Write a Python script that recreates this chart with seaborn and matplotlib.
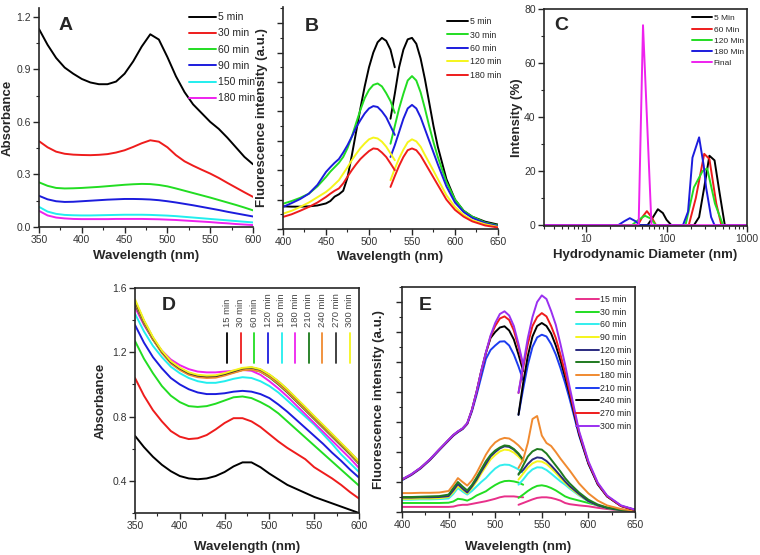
import numpy as np
import pandas as pd
import seaborn as sns
import matplotlib
matplotlib.use('Agg')
import matplotlib.pyplot as plt
from matplotlib.ticker import MultipleLocator, NullFormatter

# ---------------- Panel A: absorbance vs time ----------------
wl_a = [350, 360, 370, 380, 390, 400, 410, 420, 430, 440, 450, 460, 470,
        480, 490, 500, 510, 520, 530, 540, 550, 560, 570, 580, 590, 600]
a_labels = ['5 min', '30 min', '60 min', '90 min', '150 min', '180 min']
a_colors = ['black', '#ee1c1c', '#22dd22', '#1c1cdd', '#22eeee', '#ee22ee']
a_5 = [1.13, 1.04, 0.965, 0.91, 0.875, 0.845, 0.825, 0.815, 0.815, 0.83, 0.875, 0.945, 1.03,
       1.10, 1.07, 0.97, 0.86, 0.77, 0.70, 0.65, 0.60, 0.56, 0.51, 0.455, 0.40, 0.358]
a_30 = [0.49, 0.455, 0.43, 0.418, 0.413, 0.411, 0.41, 0.412, 0.416, 0.425, 0.438, 0.457, 0.478,
        0.495, 0.487, 0.455, 0.41, 0.375, 0.35, 0.327, 0.305, 0.28, 0.252, 0.225, 0.198, 0.172]
a_60 = [0.255, 0.235, 0.223, 0.22, 0.221, 0.223, 0.226, 0.229, 0.233, 0.237, 0.241, 0.244, 0.246,
        0.245, 0.24, 0.232, 0.22, 0.207, 0.194, 0.181, 0.168, 0.154, 0.14, 0.126, 0.111, 0.095]
a_90 = [0.178, 0.158, 0.147, 0.143, 0.144, 0.147, 0.15, 0.153, 0.156, 0.158, 0.16, 0.16, 0.159,
        0.157, 0.153, 0.147, 0.14, 0.132, 0.124, 0.115, 0.106, 0.097, 0.087, 0.078, 0.069, 0.06]
a_150 = [0.115, 0.088, 0.075, 0.069, 0.067, 0.066, 0.066, 0.067, 0.068, 0.069, 0.07, 0.07, 0.07,
         0.069, 0.067, 0.065, 0.062, 0.058, 0.054, 0.05, 0.046, 0.042, 0.038, 0.034, 0.03, 0.026]
a_180 = [0.092, 0.066, 0.054, 0.049, 0.046, 0.045, 0.045, 0.045, 0.045, 0.046, 0.046, 0.046, 0.046,
         0.045, 0.044, 0.042, 0.04, 0.037, 0.034, 0.031, 0.028, 0.024, 0.021, 0.017, 0.014, 0.011]

# ---------------- Panel B: fluorescence (two segments) ----------------
wl_b1 = [400, 410, 420, 430, 440, 450, 455, 460, 465, 470, 475, 480, 485, 490,
         495, 500, 505, 510, 515, 520, 525, 530]
wl_b2 = [525, 530, 535, 540, 545, 550, 555, 560, 565, 570, 575, 580, 590, 600,
         610, 620, 635, 650]
b_labels = ['5 min', '30 min', '60 min', '120 min', '180 min']
b_colors = ['black', '#22dd22', '#1c1cdd', '#f5f51c', '#ee1c1c']
b_left = [
    [0.77, 0.76, 0.76, 0.77, 0.80, 0.87, 0.95, 1.10, 1.18, 1.30, 1.75, 2.50, 3.30, 4.10,
     4.85, 5.50, 6.00, 6.35, 6.50, 6.40, 6.10, 5.50],
    [0.86, 0.95, 1.06, 1.20, 1.45, 1.77, 1.95, 2.10, 2.25, 2.45, 2.75, 3.14, 3.60, 4.05,
     4.45, 4.73, 4.90, 4.95, 4.85, 4.62, 4.35, 3.95],
    [0.75, 0.88, 1.02, 1.20, 1.50, 1.94, 2.10, 2.25, 2.38, 2.60, 2.85, 3.14, 3.45, 3.70,
     3.93, 4.10, 4.18, 4.15, 4.00, 3.80, 3.50, 3.20],
    [0.52, 0.62, 0.75, 0.90, 1.08, 1.26, 1.38, 1.52, 1.66, 1.88, 2.10, 2.34, 2.55, 2.75,
     2.91, 3.05, 3.11, 3.08, 2.97, 2.80, 2.57, 2.34],
    [0.41, 0.50, 0.62, 0.75, 0.90, 1.09, 1.20, 1.30, 1.38, 1.55, 1.78, 2.00, 2.20, 2.38,
     2.52, 2.65, 2.74, 2.72, 2.60, 2.45, 2.23, 2.00],
]
b_right = [
    [3.75, 4.60, 5.50, 6.10, 6.45, 6.50, 6.30, 5.80, 5.10, 4.30, 3.50, 2.80, 1.70, 1.00,
     0.62, 0.42, 0.25, 0.15],
    [2.90, 3.50, 4.10, 4.60, 5.05, 5.20, 5.05, 4.65, 4.10, 3.50, 2.95, 2.45, 1.60, 1.00,
     0.62, 0.42, 0.22, 0.12],
    [2.45, 2.85, 3.30, 3.75, 4.10, 4.22, 4.10, 3.80, 3.40, 3.00, 2.60, 2.20, 1.45, 0.90,
     0.58, 0.38, 0.20, 0.10],
    [1.66, 2.05, 2.40, 2.70, 2.95, 3.05, 2.98, 2.80, 2.52, 2.25, 1.98, 1.70, 1.15, 0.75,
     0.48, 0.30, 0.16, 0.07],
    [1.43, 1.80, 2.15, 2.45, 2.68, 2.74, 2.68, 2.50, 2.25, 2.00, 1.75, 1.50, 1.00, 0.65,
     0.42, 0.26, 0.12, 0.05],
]

# ---------------- Panel C: DLS size distribution ----------------
c_labels = ['5 Min', '60 Min', '120 Min', '180 Min', 'Final']
c_colors = ['black', '#ee1c1c', '#22dd22', '#1c1cdd', '#ee22ee']
c_x = [
    [3, 58, 68, 78, 90, 100, 115, 219, 254, 294, 341, 395, 456, 530, 1000],
    [3, 44, 50, 57, 65, 74, 189, 231, 294, 341, 415, 481, 1000],
    [3, 37, 45, 54, 63, 74, 172, 219, 280, 320, 400, 504, 1000],
    [3, 25, 30, 35, 41, 47, 160, 185, 210, 254, 290, 310, 358, 395, 1000],
    [3, 45, 51, 65, 1000],
]
c_y = [
    [0, 0, 3, 5.9, 4.5, 2, 0, 0, 3, 14, 25.7, 24, 12, 0, 0],
    [0, 0, 3, 5.2, 3, 0, 0, 10, 26.4, 24.5, 8, 0, 0],
    [0, 0, 2, 3.5, 2.5, 0, 0, 14, 20, 21, 8, 0, 0],
    [0, 0, 1.5, 2.6, 1.5, 0, 0, 5, 25, 32.5, 22, 14, 3, 0, 0],
    [0, 0, 74, 0, 0],
]

# ---------------- Panel D: absorbance, longer times ----------------
wl_d = wl_a
d_labels = ['15 min', '30 min', '60 min', '120 min', '150 min', '180 min',
            '210 min', '240 min', '270 min', '300 min']
d_colors = ['black', '#ee1c1c', '#22dd22', '#1c1cdd', '#22eeee', '#ee22ee',
            '#1a7a1a', '#f08a30', '#333333', '#f5f51c']
d_vals = [
    [0.68, 0.61, 0.55, 0.50, 0.46, 0.43, 0.415, 0.41, 0.415, 0.43, 0.455, 0.49, 0.515,
     0.515, 0.485, 0.445, 0.41, 0.375, 0.35, 0.325, 0.30, 0.28, 0.26, 0.24, 0.22, 0.20],
    [1.04, 0.93, 0.84, 0.77, 0.71, 0.675, 0.66, 0.665, 0.685, 0.72, 0.76, 0.79, 0.79,
     0.77, 0.735, 0.69, 0.645, 0.605, 0.57, 0.535, 0.485, 0.45, 0.415, 0.375, 0.33, 0.29],
    [1.27, 1.16, 1.07, 0.99, 0.93, 0.89, 0.865, 0.86, 0.865, 0.88, 0.90, 0.92, 0.925,
     0.915, 0.89, 0.86, 0.82, 0.77, 0.72, 0.67, 0.62, 0.57, 0.52, 0.47, 0.42, 0.37],
    [1.37, 1.26, 1.17, 1.10, 1.04, 1.00, 0.97, 0.95, 0.94, 0.94, 0.945, 0.955, 0.96,
     0.955, 0.94, 0.915, 0.875, 0.83, 0.78, 0.73, 0.68, 0.63, 0.575, 0.525, 0.47, 0.42],
    [1.44, 1.33, 1.24, 1.17, 1.11, 1.07, 1.04, 1.02, 1.01, 1.01, 1.02, 1.035, 1.045,
     1.04, 1.02, 0.99, 0.95, 0.90, 0.85, 0.80, 0.75, 0.69, 0.63, 0.565, 0.51, 0.455],
    [1.48, 1.37, 1.28, 1.21, 1.155, 1.12, 1.095, 1.08, 1.075, 1.075, 1.08, 1.085, 1.09,
     1.085, 1.06, 1.02, 0.975, 0.925, 0.87, 0.815, 0.76, 0.705, 0.65, 0.595, 0.54, 0.48],
    [1.50, 1.38, 1.28, 1.20, 1.14, 1.10, 1.07, 1.055, 1.05, 1.05, 1.06, 1.075, 1.09,
     1.095, 1.08, 1.045, 1.00, 0.95, 0.895, 0.84, 0.785, 0.73, 0.675, 0.62, 0.565, 0.505],
    [1.51, 1.385, 1.28, 1.195, 1.13, 1.09, 1.06, 1.045, 1.04, 1.042, 1.055, 1.072, 1.088,
     1.093, 1.08, 1.048, 1.005, 0.955, 0.90, 0.845, 0.79, 0.735, 0.68, 0.625, 0.57, 0.51],
    [1.52, 1.395, 1.29, 1.205, 1.14, 1.10, 1.07, 1.055, 1.05, 1.052, 1.065, 1.082, 1.10,
     1.105, 1.092, 1.06, 1.018, 0.968, 0.912, 0.857, 0.80, 0.745, 0.69, 0.633, 0.578, 0.518],
    [1.53, 1.40, 1.295, 1.21, 1.145, 1.105, 1.075, 1.06, 1.055, 1.057, 1.07, 1.087, 1.103,
     1.108, 1.095, 1.062, 1.02, 0.97, 0.915, 0.86, 0.803, 0.748, 0.692, 0.636, 0.58, 0.52],
]

# ---------------- Panel E: fluorescence, longer times (two segments) ----------------
wl_e1 = wl_b1
wl_e2 = wl_b2
e_labels = ['15 min', '30 min', '60 min', '90 min', '120 min', '150 min', '180 min',
            '210 min', '240 min', '270 min', '300 min']
e_colors = ['#e8308a', '#22dd22', '#33eeee', '#f5f51c', '#2a2a80', '#1f7a1f', '#f08a30',
            '#1c3cf0', 'black', '#ee1c1c', '#9a30f0']
e_left = [
    [0.17, 0.17, 0.17, 0.17, 0.17, 0.17, 0.18, 0.22, 0.24, 0.24, 0.27, 0.30, 0.33, 0.36,
     0.40, 0.44, 0.49, 0.52, 0.52, 0.52, 0.50, 0.49],
    [0.30, 0.30, 0.30, 0.30, 0.30, 0.31, 0.35, 0.44, 0.42, 0.38, 0.45, 0.55, 0.62, 0.69,
     0.80, 0.90, 0.98, 1.03, 1.04, 1.02, 0.98, 0.91],
    [0.41, 0.41, 0.42, 0.42, 0.43, 0.45, 0.60, 0.80, 0.68, 0.58, 0.70, 0.85, 1.00, 1.13,
     1.30, 1.45, 1.55, 1.58, 1.57, 1.50, 1.42, 1.30],
    [0.44, 0.44, 0.45, 0.45, 0.46, 0.50, 0.66, 0.86, 0.74, 0.62, 0.80, 1.02, 1.28, 1.52,
     1.75, 1.90, 2.02, 2.08, 2.06, 1.98, 1.85, 1.68],
    [0.48, 0.48, 0.49, 0.49, 0.50, 0.53, 0.72, 0.93, 0.78, 0.65, 0.85, 1.08, 1.35, 1.60,
     1.85, 2.00, 2.12, 2.19, 2.17, 2.08, 1.93, 1.74],
    [0.50, 0.50, 0.51, 0.52, 0.53, 0.58, 0.80, 1.00, 0.85, 0.72, 0.90, 1.15, 1.42, 1.69,
     1.90, 2.05, 2.15, 2.22, 2.20, 2.10, 1.95, 1.74],
    [0.63, 0.63, 0.64, 0.64, 0.65, 0.70, 0.90, 1.13, 1.00, 0.88, 1.05, 1.30, 1.60, 1.91,
     2.15, 2.32, 2.42, 2.47, 2.45, 2.35, 2.22, 2.05],
    [1.06, 1.23, 1.45, 1.73, 2.06, 2.38, 2.54, 2.66, 2.76, 2.93, 3.35, 3.90, 4.50, 5.10,
     5.40, 5.55, 5.68, 5.69, 5.55, 5.25, 4.85, 4.40],
    [1.08, 1.25, 1.47, 1.75, 2.08, 2.40, 2.56, 2.68, 2.78, 2.95, 3.40, 4.00, 4.69, 5.30,
     5.80, 6.00, 6.15, 6.19, 6.05, 5.75, 5.25, 4.70],
    [1.08, 1.25, 1.47, 1.75, 2.08, 2.40, 2.56, 2.68, 2.78, 2.95, 3.40, 4.00, 4.69, 5.30,
     5.85, 6.20, 6.45, 6.52, 6.40, 6.05, 5.50, 4.85],
    [1.09, 1.26, 1.48, 1.76, 2.09, 2.41, 2.57, 2.69, 2.79, 2.96, 3.41, 4.01, 4.70, 5.32,
     5.88, 6.30, 6.60, 6.69, 6.55, 6.20, 5.60, 4.90],
]
e_right = [
    [0.24, 0.30, 0.36, 0.42, 0.47, 0.49, 0.49, 0.47, 0.43, 0.38, 0.30, 0.26, 0.22, 0.19,
     0.14, 0.10, 0.05, 0.02],
    [0.47, 0.58, 0.70, 0.80, 0.87, 0.89, 0.86, 0.80, 0.72, 0.62, 0.52, 0.46, 0.38, 0.30,
     0.22, 0.15, 0.07, 0.03],
    [0.91, 1.08, 1.28, 1.42, 1.49, 1.48, 1.40, 1.28, 1.15, 1.02, 0.91, 0.78, 0.55, 0.35,
     0.22, 0.13, 0.06, 0.03],
    [1.08, 1.28, 1.48, 1.62, 1.69, 1.68, 1.60, 1.46, 1.30, 1.13, 0.97, 0.82, 0.57, 0.36,
     0.22, 0.13, 0.06, 0.03],
    [1.27, 1.40, 1.60, 1.75, 1.82, 1.80, 1.70, 1.55, 1.38, 1.20, 1.02, 0.86, 0.60, 0.36,
     0.22, 0.13, 0.06, 0.03],
    [1.24, 1.55, 1.85, 2.02, 2.10, 2.08, 1.95, 1.75, 1.55, 1.35, 1.13, 0.95, 0.65, 0.41,
     0.25, 0.15, 0.07, 0.03],
    [1.47, 1.75, 2.30, 3.10, 3.20, 2.55, 2.30, 2.20, 2.00, 1.78, 1.58, 1.38, 0.95, 0.62,
     0.38, 0.22, 0.10, 0.04],
    [3.24, 4.10, 4.90, 5.50, 5.82, 5.91, 5.85, 5.60, 5.25, 4.80, 4.30, 3.75, 2.55, 1.60,
     0.92, 0.52, 0.20, 0.07],
    [3.24, 4.30, 5.20, 5.85, 6.20, 6.30, 6.20, 5.95, 5.55, 5.05, 4.50, 3.90, 2.60, 1.62,
     0.93, 0.52, 0.20, 0.07],
    [3.97, 4.80, 5.60, 6.20, 6.50, 6.63, 6.52, 6.20, 5.80, 5.25, 4.65, 4.00, 2.65, 1.65,
     0.95, 0.53, 0.20, 0.07],
    [3.97, 4.90, 5.80, 6.50, 7.00, 7.22, 7.10, 6.70, 6.24, 5.60, 4.91, 4.15, 2.70, 1.69,
     0.98, 0.55, 0.22, 0.08],
]

# ---------------- style ----------------
sns.set_style('ticks')
plt.rcParams['font.family'] = ['Liberation Sans', 'DejaVu Sans']
LW = 1.4
TICKC = '#333333'


def style_axes(ax, full_frame=True):
    for s in ax.spines.values():
        s.set_linewidth(1.2)
    if not full_frame:
        ax.spines['top'].set_visible(False)
        ax.spines['right'].set_visible(False)
    ax.tick_params(which='major', direction='out', length=4, width=1, pad=2,
                   labelsize=7.5, labelcolor=TICKC)
    ax.tick_params(which='minor', direction='out', length=2.2, width=0.8)


def label_axes(ax, xl, yl, xpos, ypos, letter, lx, ly):
    ax.set_xlabel(xl, fontsize=9.5, fontweight='bold')
    ax.set_ylabel(yl, fontsize=9.5, fontweight='bold')
    ax.xaxis.set_label_coords(0.5, xpos)
    ax.yaxis.set_label_coords(ypos, 0.5)
    ax.text(lx, ly, letter, transform=ax.transAxes, fontsize=14, fontweight='bold',
            ha='center', va='center')


fig = plt.figure(figsize=(7.6, 5.55), dpi=100)
W, H = 760, 555


def axes_px(l, t, r, b):
    return fig.add_axes([l / W, (H - b) / H, (r - l) / W, (b - t) / H])


# ---- A ----
axA = axes_px(39, 8, 253, 227)
for vals, lab, col in zip([a_5, a_30, a_60, a_90, a_150, a_180], a_labels, a_colors):
    sns.lineplot(x=wl_a, y=vals, color=col, lw=LW, label=lab, ax=axA,
                 estimator=None, sort=False)
axA.set_xlim(350, 600)
axA.set_ylim(0, 1.25)
axA.xaxis.set_major_locator(MultipleLocator(50))
axA.xaxis.set_minor_locator(MultipleLocator(25))
axA.yaxis.set_minor_locator(MultipleLocator(0.15))
axA.set_yticks([0, 0.3, 0.6, 0.9, 1.2])
axA.set_yticklabels(['0.0', '0.3', '0.6', '0.9', '1.2'])
style_axes(axA, full_frame=False)
label_axes(axA, 'Wavelength (nm)', 'Absorbance', -0.105, -0.118, 'A', 0.126, 0.92)
axA.legend(loc='upper right', bbox_to_anchor=(1.03, 1.0), frameon=False, fontsize=7.5,
           handlelength=2.6, labelspacing=0.6, handletextpad=0.2, borderaxespad=0)

# ---- B ----
axB = axes_px(283, 7, 498, 229)
for i in range(len(b_labels)):
    sns.lineplot(x=wl_b1, y=b_left[i], color=b_colors[i], lw=LW, label=b_labels[i],
                 ax=axB, estimator=None, sort=False)
    sns.lineplot(x=wl_b2, y=b_right[i], color=b_colors[i], lw=LW, ax=axB,
                 estimator=None, sort=False)
axB.set_xlim(400, 650)
axB.set_ylim(0, 7.55)
axB.xaxis.set_major_locator(MultipleLocator(50))
axB.xaxis.set_minor_locator(MultipleLocator(25))
axB.yaxis.set_major_locator(MultipleLocator(1))
axB.yaxis.set_minor_locator(MultipleLocator(0.5))
axB.yaxis.set_major_formatter(NullFormatter())
style_axes(axB, full_frame=False)
label_axes(axB, 'Wavelength (nm)', 'Fluorescence intensity (a.u.)', -0.1, -0.07,
           'B', 0.135, 0.91)
axB.legend(loc='upper right', bbox_to_anchor=(1.03, 0.97), frameon=False, fontsize=6.3,
           handlelength=2.4, labelspacing=0.5, handletextpad=0.2, borderaxespad=0)

# ---- C ----
axC = axes_px(544, 9, 747, 226)
for xs, ys, lab, col in zip(c_x, c_y, c_labels, c_colors):
    sns.lineplot(x=xs, y=ys, color=col, lw=LW, label=lab, ax=axC,
                 estimator=None, sort=False)
axC.set_xscale('log')
axC.set_xlim(3, 1000)
axC.set_ylim(-0.3, 80)
axC.set_xticks([10, 100, 1000])
axC.set_xticklabels(['10', '100', '1000'])
axC.set_yticks([0, 20, 40, 60, 80])
axC.yaxis.set_minor_locator(MultipleLocator(10))
style_axes(axC)
label_axes(axC, 'Hydrodynamic Diameter (nm)', 'Intensity (%)', -0.105, -0.105,
           'C', 0.084, 0.926)
axC.legend(loc='upper right', bbox_to_anchor=(1.0, 0.99), frameon=False, fontsize=6,
           handlelength=2.4, labelspacing=0.4, handletextpad=0.2, borderaxespad=0)

# ---- D ----
axD = axes_px(135, 288, 359, 513)
for vals, col in zip(d_vals, d_colors):
    sns.lineplot(x=wl_d, y=vals, color=col, lw=LW, ax=axD, estimator=None, sort=False)
axD.set_xlim(350, 600)
axD.set_ylim(0.2, 1.6)
axD.xaxis.set_major_locator(MultipleLocator(50))
axD.xaxis.set_minor_locator(MultipleLocator(25))
axD.set_yticks([0.4, 0.8, 1.2, 1.6])
axD.yaxis.set_minor_locator(MultipleLocator(0.2))
style_axes(axD)
label_axes(axD, 'Wavelength (nm)', 'Absorbance', -0.125, -0.125, 'D', 0.15, 0.92)
# vertical legend with rotated labels
for k, (lab, col) in enumerate(zip(d_labels, d_colors)):
    lx = 0.412 + k * 0.0607
    axD.plot([lx, lx], [0.667, 0.80], color=col, lw=1.3, transform=axD.transAxes)
    axD.text(lx, 0.825, lab, rotation=90, ha='center', va='bottom', fontsize=6.8,
             color='#444444', transform=axD.transAxes)

# ---- E ----
axE = axes_px(402, 287, 635, 512)
for i in range(len(e_labels)):
    sns.lineplot(x=wl_e1, y=e_left[i], color=e_colors[i], lw=LW, label=e_labels[i],
                 ax=axE, estimator=None, sort=False)
    sns.lineplot(x=wl_e2, y=e_right[i], color=e_colors[i], lw=LW, ax=axE,
                 estimator=None, sort=False)
axE.set_xlim(400, 650)
axE.set_ylim(0, 7.5)
axE.xaxis.set_major_locator(MultipleLocator(50))
axE.xaxis.set_minor_locator(MultipleLocator(25))
axE.yaxis.set_major_locator(MultipleLocator(1))
axE.yaxis.set_minor_locator(MultipleLocator(0.5))
axE.yaxis.set_major_formatter(NullFormatter())
style_axes(axE)
label_axes(axE, 'Wavelength (nm)', 'Fluorescence intensity (a.u.)', -0.128, -0.072,
           'E', 0.099, 0.916)
axE.legend(loc='upper right', bbox_to_anchor=(1.0, 0.98), frameon=False, fontsize=6.3,
           handlelength=2.6, labelspacing=0.42, handletextpad=0.2, borderaxespad=0)

fig.savefig('out.png', dpi=100)
